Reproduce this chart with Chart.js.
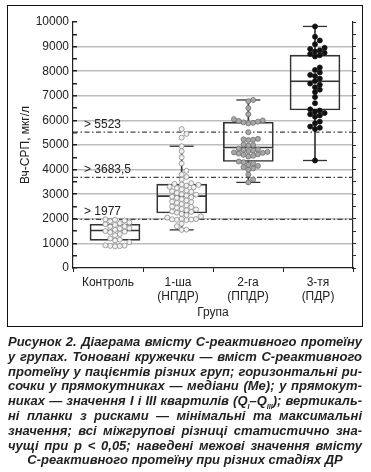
<!DOCTYPE html>
<html>
<head>
<meta charset="utf-8">
<script src="https://cdn.jsdelivr.net/npm/chart.js@4"></script>
<style>
  body { margin: 0; width: 371px; height: 472px; background: #fff; position: relative; overflow: hidden; }
  #wrap { position: absolute; left: 0; top: 0; width: 371px; height: 330px; }
  #frame { position: absolute; left: 7px; top: 5px; width: 356px; height: 322px; box-sizing: border-box; border: 1.5px solid #111; pointer-events: none; }
  #caption { position: absolute; left: 8px; top: 335px; width: 354px; font: italic bold 13px "Liberation Sans", Arial, sans-serif; color: #222; line-height: 14.8px; }
  #caption div { text-align: justify; text-align-last: justify; white-space: nowrap; }
  #caption div.last { text-align: center; text-align-last: center; }
  sub { font-size: 7px; line-height: 0; }
</style>
</head>
<body>
<div id="wrap"><canvas id="crp"></canvas></div>
<div id="frame"></div>
<div id="caption">
  <div>Рисунок 2. Діаграма вмісту С-реактивного протеїну</div>
  <div>у групах. Тоновані кружечки — вміст С-реактивного</div>
  <div>протеїну у пацієнтів різних груп; горизонтальні ри-</div>
  <div>сочки у прямокутниках — медіани (Me); у прямокут-</div>
  <div>никах — значення I і III квартилів (Q<sub>I</sub>–Q<sub>III</sub>); вертикаль-</div>
  <div>ні планки з рисками — мінімальні та максимальні</div>
  <div>значення; всі міжгрупові різниці статистично зна-</div>
  <div>чущі при p &lt; 0,05; наведені межові значення вмісту</div>
  <div class="last">С-реактивного протеїну при різних стадіях ДР</div>
</div>
<script>
const groups = [['Контроль'], ['1-ша', '(НПДР)'], ['2-га', '(ППДР)'], ['3-тя', '(ПДР)']];

const thresholds = [5523, 3683.5, 1977];
const thresholdLabels = ['> 5523', '> 3683,5', '> 1977'];

// box stats per group
const q1 = [1120, 2237, 4330, 6422];
const medians = [1500, 2900, 4870, 7569];
const q3 = [1780, 3411, 5924, 8651];
const minima = [null, 1550, 3480, 4370];
const maxima = [null, 4950, 6830, 9820];

// individual patients
const control = [880, 890, 900, 910, 920, 1050, 1120, 1150, 1200, 1330, 1380, 1450, 1480, 1500,
  1550, 1600, 1620, 1680, 1700, 1750, 1780, 1820, 1850, 1900, 1930, 1960, 1977];
const npdr = [5650, 5450, 5300, 4950, 4750, 4500, 4250, 3950, 3800, 3700, 3600, 3450, 3420, 3400,
  3380, 3350, 3300, 3280, 3250, 3200, 3150, 3120, 3100, 3050, 3000, 2980, 2950, 2900, 2880, 2850,
  2800, 2750, 2700, 2680, 2650, 2600, 2550, 2500, 2480, 2450, 2400, 2380, 2350, 2300, 2280, 2250,
  2200, 2150, 2100, 2050, 2000, 1990, 1980, 1970, 1960, 1950, 1800, 1700, 1560, 1550];
const ppdr = [6830, 6780, 6500, 6250, 6050, 6000, 5980, 5950, 5920, 5900, 5880, 5520, 5250, 5230,
  5210, 5200, 5020, 5000, 4980, 4850, 4820, 4800, 4780, 4750, 4720, 4700, 4680, 4650, 4620, 4600,
  4560, 4530, 4330, 4300, 4250, 4200, 4150, 4100, 4050, 4000, 3800, 3600, 3480];
const pdr = [9820, 9400, 9250, 9100, 8950, 8900, 8850, 8800, 8750, 8700, 8650, 8600, 8150, 8050,
  7950, 7850, 7800, 7700, 7600, 7500, 7450, 7350, 7250, 7150, 6950, 6700, 6450, 6400, 6350, 6300,
  6250, 6200, 6150, 5950, 5880, 5750, 5700, 5650, 4370];

const boxPos = [1, 2, 3, 4];
const X_MIN = 0.37, X_MAX = 4.57;

// simple beeswarm so the dots don't sit on top of each other
const PX_X = 280 / (X_MAX - X_MIN), PX_Y = 246 / 10000, D = 4.8;
function swarm(values, center) {
  const placed = [];
  values.slice().sort((a, b) => a - b).forEach(v => {
    const py = v * PX_Y;
    for (let k = 0; k < 60; k++) {
      const off = k === 0 ? 0 : (k % 2 ? 1 : -1) * Math.ceil(k / 2) * D / 2;
      if (placed.every(p => (p.off - off) ** 2 + (p.py - py) ** 2 >= D * D)) {
        placed.push({ off, py, v });
        break;
      }
    }
  });
  return placed.map(p => ({ x: center + p.off / PX_X, y: p.v }));
}

const range = (a, b) => boxPos.map((x, i) => ({ x, y: [a[i], b[i]] }))
  .filter(d => d.y[0] != null && d.y[1] != null);

const box = {
  type: 'bar', xAxisID: 'x2', grouped: false, barThickness: 50,
  backgroundColor: 'rgba(255,255,255,0)', borderColor: '#333', borderSkipped: false, order: 3
};
const whisker = { type: 'bar', xAxisID: 'x2', grouped: false, barThickness: 1, backgroundColor: '#333', order: 4 };
const dots = { type: 'scatter', xAxisID: 'x2', pointRadius: 2.5, borderWidth: 0.8, order: 1 };

const caps = [];
boxPos.forEach((x, i) => {
  if (minima[i] != null) caps.push({ x, y: minima[i] }, { x, y: maxima[i] });
});

const thresholdText = {
  id: 'thresholdText',
  afterDatasetsDraw(chart) {
    const { ctx, chartArea, scales } = chart;
    ctx.save();
    ctx.font = '12px "Liberation Sans", Arial, sans-serif';
    ctx.fillStyle = '#222';
    thresholds.forEach((v, i) => {
      ctx.fillText(thresholdLabels[i], chartArea.left + 11, scales.y.getPixelForValue(v) - 4);
    });
    ctx.restore();
  }
};

const font = { family: '"Liberation Sans", Arial, sans-serif', size: 12 };

new Chart(document.getElementById('crp'), {
  type: 'bar',
  data: {
    labels: groups,
    datasets: [
      ...thresholds.map(v => ({
        type: 'line', xAxisID: 'x2', data: [{ x: X_MIN, y: v }, { x: X_MAX, y: v }],
        borderColor: '#444', borderWidth: 1.1, borderDash: [5, 2.5, 1.5, 2.5], pointRadius: 0, order: 5
      })),
      { ...whisker, data: range(minima, q1) },
      { ...whisker, data: range(q3, maxima) },
      // lower half has no top edge so the median stays a single thin line
      { ...box, data: range(q1, medians), borderWidth: { top: 0, bottom: 1, left: 1, right: 1 } },
      { ...box, data: range(medians, q3), borderWidth: 1 },
      { type: 'scatter', xAxisID: 'x2', data: caps, pointStyle: 'line', pointRadius: 12, borderWidth: 1.3, borderColor: '#333', order: 2 },
      { ...dots, data: swarm(control, 1), backgroundColor: '#f2f2f2', borderColor: '#8c8c8c' },
      { ...dots, data: swarm(npdr, 2), backgroundColor: '#f2f2f2', borderColor: '#8c8c8c' },
      { ...dots, data: swarm(ppdr, 3), backgroundColor: '#a8a8a8', borderColor: '#6e6e6e' },
      { ...dots, data: swarm(pdr, 4), backgroundColor: '#111', borderColor: '#111' }
    ]
  },
  options: {
    responsive: true,
    maintainAspectRatio: false,
    animation: false,
    layout: { padding: { top: 22, right: 15, left: 0, bottom: 0 } },
    plugins: { legend: { display: false }, tooltip: { enabled: false } },
    scales: {
      x: {
        type: 'category',
        offset: true,
        grid: { offset: true, drawOnChartArea: false, tickLength: 4, tickColor: '#222' },
        border: { color: '#222', width: 1.2 },
        ticks: { color: '#222', font, padding: 3, maxRotation: 0, autoSkip: false },
        title: { display: true, text: 'Група', color: '#222', font, padding: { top: 0, bottom: 10 } },
        afterFit: s => { s.height = 62; }
      },
      x2: {
        type: 'linear', display: false, offset: false, grid: { offset: false },
        min: X_MIN, max: X_MAX
      },
      y: {
        min: 0, max: 10000,
        ticks: {
          stepSize: 500, autoSkip: false, color: '#222', font, padding: 8,
          callback: v => (v % 1000 === 0 ? v : '')
        },
        grid: {
          tickLength: -4,
          lineWidth: 1.5,
          color: c => (c.tick && c.tick.value % 1000 === 0 && c.tick.value > 0 && c.tick.value < 10000 ? '#bdbdbd' : 'rgba(0,0,0,0)'),
          tickColor: '#222'
        },
        border: { color: '#222', width: 1.2 },
        title: { display: true, text: 'Вч-СРП, мкг/л', color: '#222', font, padding: { top: 18, bottom: 0 } },
        afterFit: s => { s.width = 73; }
      },
      yR: {
        position: 'right', min: 0, max: 10000,
        ticks: { stepSize: 500, autoSkip: false, display: false },
        grid: { drawOnChartArea: false, tickLength: 3, tickColor: '#222' },
        border: { color: '#222', width: 1.2 },
        afterFit: s => { s.width = 3; }
      }
    }
  },
  plugins: [thresholdText]
});
</script>
</body>
</html>
